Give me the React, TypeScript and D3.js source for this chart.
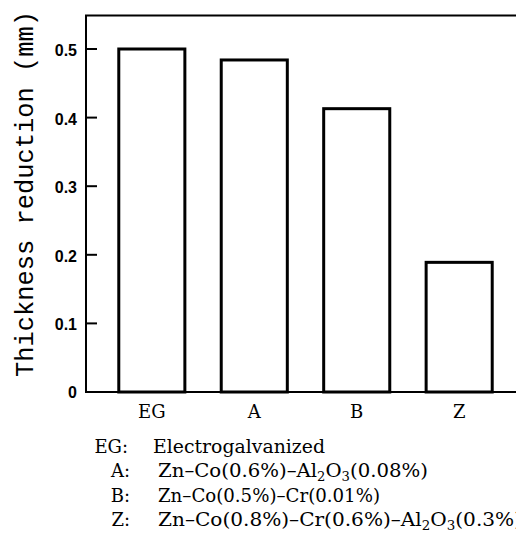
import React from 'react';
import * as d3 from 'd3';

const categories = ['EG', 'A', 'B', 'Z'];
const reduction = [0.5, 0.484, 0.413, 0.189];
const yTicks = [0, 0.1, 0.2, 0.3, 0.4, 0.5];
const yTickLabels = ['0', '0.1', '0.2', '0.3', '0.4', '0.5'];
const legendKeys = ['EG:', 'A:', 'B:', 'Z:'];
const legendTexts = [
  'Electrogalvanized',
  'Zn–Co(0.6%)–Al_2O_3(0.08%)',
  'Zn–Co(0.5%)–Cr(0.01%)',
  'Zn–Co(0.8%)–Cr(0.6%)–Al_2O_3(0.3%)',
];

const W = 516;
const H = 541;

// split "Al_2O_3" style strings into normal / subscript pieces
const pieces = (s: string) => {
  const out: { t: string; sub: boolean }[] = [];
  const re = /_(\d)/g;
  let last = 0;
  let m: RegExpExecArray | null;
  while ((m = re.exec(s))) {
    if (m.index > last) out.push({ t: s.slice(last, m.index), sub: false });
    out.push({ t: m[1], sub: true });
    last = m.index + m[0].length;
  }
  if (last < s.length) out.push({ t: s.slice(last), sub: false });
  return out;
};

// rendered widths of the legend lines, as measured on the scan
const legendWidths = [172, 270, 222, 364];

export default function App() {
  const left = 86;
  const top = 15.5;
  const base = 392;

  const y = d3.scaleLinear().domain([0, 0.5]).range([base, 49]);
  const x = d3
    .scaleBand<string>()
    .domain(categories)
    .range([left, 525])
    .paddingInner(0.355)
    .paddingOuter(0.32);

  const serif = '"DejaVu Serif", serif';

  return (
    <svg
      width={W}
      height={H}
      style={{ position: 'absolute', left: 0, top: 0, background: '#fff' }}
    >
      {/* frame */}
      <path
        d={`M${W},${top}H${left}V${base}H${W}`}
        fill="none"
        stroke="#000"
        strokeWidth={2}
      />

      {/* ticks */}
      {yTicks.map((t, i) => (
        <g key={t}>
          {i > 0 && (
            <line x1={left} x2={left + 11} y1={y(t)} y2={y(t)} stroke="#000" strokeWidth={2} />
          )}
          <text
            x={77}
            y={y(t)}
            dy={i === 0 ? 6 : 7}
            textAnchor="end"
            fontFamily='"Liberation Sans", Arial, sans-serif'
            fontWeight="bold"
            fontSize={16}
          >
            {yTickLabels[i]}
          </text>
        </g>
      ))}

      {/* bars */}
      {categories.map((c, i) => (
        <rect
          key={c}
          x={x(c)!}
          y={y(reduction[i])}
          width={x.bandwidth()}
          height={base - y(reduction[i])}
          fill="#fff"
          stroke="#000"
          strokeWidth={3}
        />
      ))}

      {/* category labels */}
      {categories.map((c) => (
        <text
          key={c}
          x={x(c)! + x.bandwidth() / 2}
          y={418}
          textAnchor="middle"
          fontFamily={serif}
          fontSize={18}
        >
          {c}
        </text>
      ))}

      {/* y label */}
      <text
        transform="translate(33,194) rotate(-90)"
        textAnchor="middle"
        fontFamily='"Liberation Mono", monospace'
        fontSize={25}
        textLength={366}
        lengthAdjust="spacingAndGlyphs"
      >
        Thickness reduction (mm)
      </text>

      {/* legend */}
      {legendKeys.map((k, i) => {
        const ps = pieces(legendTexts[i]);
        return (
          <g key={k} fontFamily={serif} fontSize={18}>
            <text x={i === 0 ? 128 : 130} y={453 + i * 24.4} textAnchor="end">
              {k}
            </text>
            <text
              x={i === 0 ? 153 : 158}
              y={453 + i * 24.4}
              textLength={legendWidths[i]}
              lengthAdjust="spacingAndGlyphs"
            >
              {ps.map((p, j) =>
                p.sub ? (
                  <tspan key={j} fontSize={12} dy={4}>
                    {p.t}
                  </tspan>
                ) : (
                  <tspan key={j} dy={j > 0 && ps[j - 1].sub ? -4 : 0}>
                    {p.t}
                  </tspan>
                )
              )}
            </text>
          </g>
        );
      })}
    </svg>
  );
}
